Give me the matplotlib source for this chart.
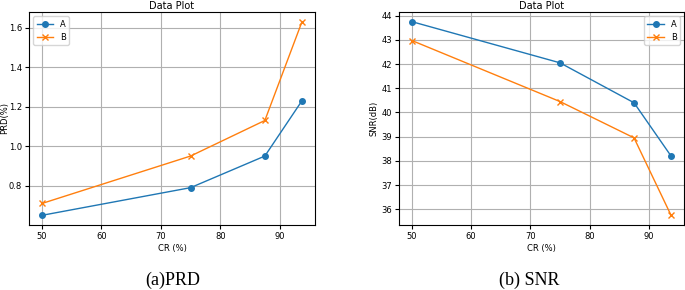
import matplotlib.pyplot as plt

cr = [50, 75, 87.5, 93.75]
prd_a = [0.65, 0.79, 0.95, 1.23]
prd_b = [0.71, 0.95, 1.13, 1.63]
snr_a = [43.75, 42.05, 40.4, 38.2]
snr_b = [42.97, 40.45, 38.95, 35.75]

plt.rcParams['font.size'] = 6

fig = plt.figure(figsize=(6.85, 2.9), dpi=100)
W, H = 685, 290

def box(l, t, r, b):
    return [l / W, 1 - b / H, (r - l) / W, (b - t) / H]

ax1 = fig.add_axes(box(29, 12, 315, 225))
ax2 = fig.add_axes(box(399, 12, 684, 225))

# PRD
ax1.plot(cr, prd_a, marker='o', ms=4, lw=1, label='A')
ax1.plot(cr, prd_b, marker='x', ms=4, lw=1, label='B')
ax1.set_title('Data Plot', fontsize=7, pad=2)
ax1.set_xlabel('CR (%)', labelpad=2)
ax1.set_ylabel('PRD(%)', labelpad=0)
ax1.set_yticks([0.8, 1.0, 1.2, 1.4, 1.6])
ax1.grid(True)
ax1.legend(loc='upper left', fontsize=6)

# SNR
ax2.plot(cr, snr_a, marker='o', ms=4, lw=1, label='A')
ax2.plot(cr, snr_b, marker='x', ms=4, lw=1, label='B')
ax2.set_title('Data Plot', fontsize=7, pad=2)
ax2.set_xlabel('CR (%)', labelpad=2)
ax2.set_ylabel('SNR(dB)', labelpad=2)
ax2.grid(True)
ax2.legend(loc='upper right', fontsize=6)

for ax in (ax1, ax2):
    ax.tick_params(length=3, pad=2)

fig.text(173 / W, 1 - 280 / H, '(a)PRD', family='Liberation Serif', fontsize=13, ha='center', va='center')
fig.text(529 / W, 1 - 280 / H, '(b) SNR', family='Liberation Serif', fontsize=13, ha='center', va='center')

fig.savefig('out.png', dpi=100)
